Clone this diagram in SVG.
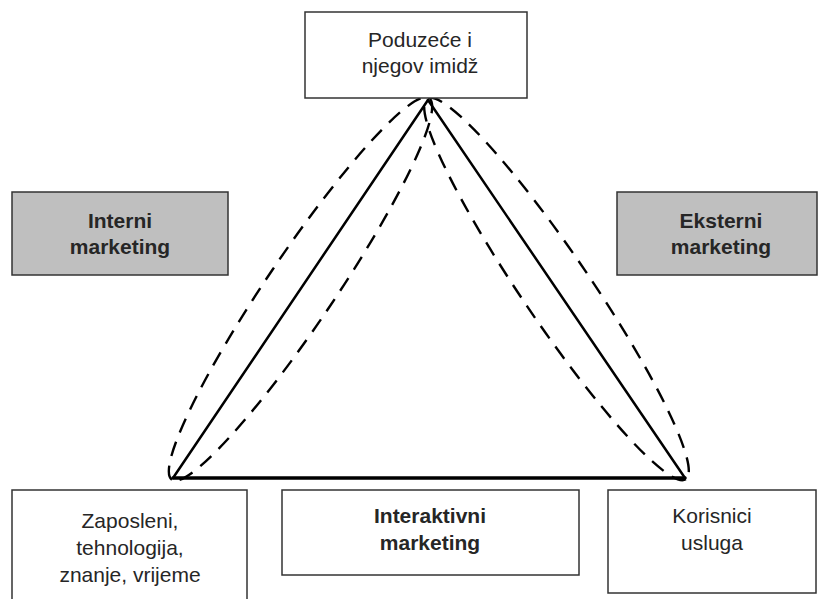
<svg xmlns="http://www.w3.org/2000/svg" width="819" height="599" viewBox="0 0 819 599">
<style>
.box{fill:#fff;stroke:#333;stroke-width:1.5}
.gray{fill:#bfbfbf;stroke:#333;stroke-width:1.5}
.t{font-family:"Liberation Sans",Arial,sans-serif;font-size:21px;fill:#262626;text-anchor:middle}
.b{font-weight:bold}
.solid{fill:none;stroke:#000;stroke-width:2.5;stroke-linecap:round}
.dash{fill:none;stroke:#000;stroke-width:2.4;stroke-dasharray:15 10}
</style>
<rect width="819" height="599" fill="#fff"/>
<g id="connectors">
<ellipse class="dash" cx="300.5" cy="289" rx="230" ry="34" transform="rotate(124 300.5 289)"/>
<ellipse class="dash" cx="556.5" cy="289" rx="230" ry="34" transform="rotate(55.8 556.5 289)"/>
<line class="solid" x1="428" y1="100" x2="173" y2="478"/>
<line class="solid" x1="428" y1="100" x2="685" y2="478"/>
<line class="solid" x1="173" y1="478" x2="685" y2="478" style="stroke-width:3.5"/>
</g>
<g id="node-poduzece">
<rect class="box" x="305" y="12" width="222" height="86"/>
<text class="t" x="420" y="47">Poduzeće i</text>
<text class="t" x="420" y="73">njegov imidž</text>
</g>
<g id="node-interni">
<rect class="gray" x="12" y="192" width="216" height="83"/>
<text class="t b" x="120" y="228">Interni</text>
<text class="t b" x="120" y="254">marketing</text>
</g>
<g id="node-eksterni">
<rect class="gray" x="617" y="192" width="200" height="83"/>
<text class="t b" x="721" y="228">Eksterni</text>
<text class="t b" x="721" y="254">marketing</text>
</g>
<g id="node-zaposleni">
<rect class="box" x="12" y="490" width="235" height="112"/>
<text class="t" x="130" y="528">Zaposleni,</text>
<text class="t" x="130" y="555">tehnologija,</text>
<text class="t" x="130" y="582">znanje, vrijeme</text>
</g>
<g id="node-interaktivni">
<rect class="box" x="282" y="490" width="297" height="85"/>
<text class="t b" x="430" y="523">Interaktivni</text>
<text class="t b" x="430" y="550">marketing</text>
</g>
<g id="node-korisnici">
<rect class="box" x="608" y="490" width="208" height="103"/>
<text class="t" x="712" y="523">Korisnici</text>
<text class="t" x="712" y="550">usluga</text>
</g>
</svg>
